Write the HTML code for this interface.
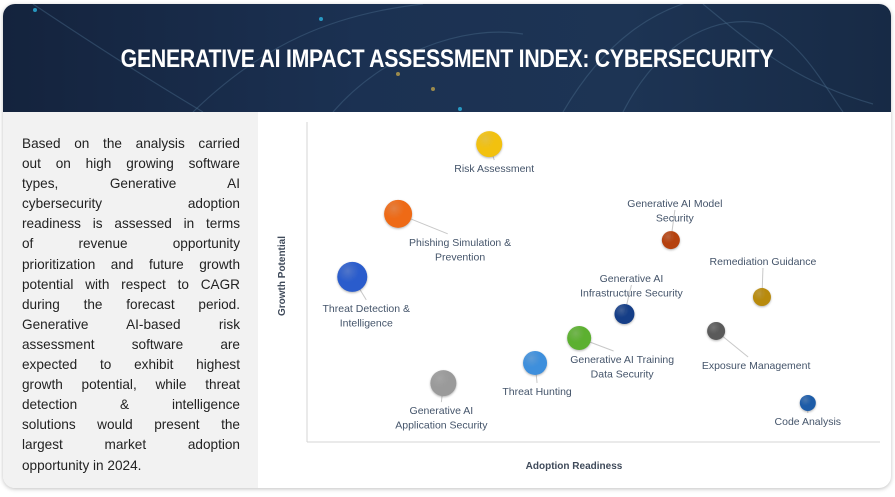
<!DOCTYPE html>
<html><head><meta charset="utf-8"><style>
*{margin:0;padding:0;box-sizing:border-box}
body{width:895px;height:497px;background:#fff;font-family:"Liberation Sans",sans-serif;overflow:hidden;position:relative}
#card{position:absolute;left:3px;top:4px;width:888px;height:484px;border-radius:12px;overflow:hidden;box-shadow:0 1px 4px rgba(0,0,0,.25);background:#fff}
#banner{position:absolute;left:0;top:0;width:888px;height:108px;background:linear-gradient(90deg,#14233d,#1b3152 40%,#1d3454 70%,#172a45)}
#title{position:absolute;left:0;top:41px;width:888px;text-align:center;color:#fff;font-family:"Liberation Sans Narrow","Liberation Sans",sans-serif;font-weight:bold;font-size:25px;letter-spacing:-0.3px;transform:scaleX(0.85)}
#left{position:absolute;left:0;top:108px;width:255px;height:376px;background:#f2f2f2}
#text{position:absolute;left:19px;top:22px;width:218px;font-size:13.6px;color:#222;line-height:20.1px}
#text div{text-align:justify;text-align-last:justify;white-space:nowrap}
#text div.l{text-align-last:left}
</style></head><body>
<div id="card">
<div id="banner">
<svg width="888" height="108" style="position:absolute;left:0;top:0">
<g fill="none" stroke="#4a6a8a" stroke-opacity=".45" stroke-width="1.2">
<path d="M30,0 C120,60 170,90 200,108"/><path d="M190,108 C260,40 330,10 420,0"/>
<path d="M560,108 C600,40 650,0 720,-10"/><path d="M620,108 C660,30 720,10 760,20 C800,40 820,80 840,108"/>
<path d="M330,108 C380,50 460,20 520,30"/><path d="M700,0 C760,50 800,80 870,100"/>
</g>
<g fill="#2ab3e0" opacity=".8"><circle cx="32" cy="6" r="2"/><circle cx="318" cy="15" r="2"/><circle cx="457" cy="105" r="2"/></g>
<g fill="#d2b04a" opacity=".7"><circle cx="395" cy="70" r="2"/><circle cx="430" cy="85" r="2"/></g>
</svg>
<div id="title">GENERATIVE AI IMPACT ASSESSMENT INDEX: CYBERSECURITY</div>
</div>
<div id="left">
<div id="text">
<div>Based on the analysis carried</div>
<div>out on high growing software</div>
<div>types, Generative AI</div>
<div>cybersecurity adoption</div>
<div>readiness is assessed in terms</div>
<div>of revenue opportunity</div>
<div>prioritization and future growth</div>
<div>potential with respect to CAGR</div>
<div>during the forecast period.</div>
<div>Generative AI-based risk</div>
<div>assessment software are</div>
<div>expected to exhibit highest</div>
<div>growth potential, while threat</div>
<div>detection &amp; intelligence</div>
<div>solutions would present the</div>
<div>largest market adoption</div>
<div class="l">opportunity in 2024.</div>
</div>
</div>
</div>
<svg id="chart" width="895" height="497" style="position:absolute;left:0;top:0"></svg>
<script>
const categories=["Risk Assessment","Phishing Simulation & Prevention","Threat Detection & Intelligence","Generative AI Application Security","Threat Hunting","Generative AI Training Data Security","Generative AI Infrastructure Security","Generative AI Model Security","Remediation Guidance","Exposure Management","Code Analysis"];
const adoption=[31.8,15.9,7.9,23.8,39.8,47.5,55.4,63.5,79.4,71.4,87.4];
const growth=[93.1,71.3,51.6,18.4,24.7,32.5,40.0,63.1,45.3,34.7,12.2];
const sizes=[13,14,15,13,12,12,10,9,9,9,8];
const colors=["#f2c10f","#ee6a16","#2a5ccc","#9a9a9a","#3e8fdc","#5cb030","#153e87","#b5410e","#b88a0c","#5a5a5a","#1d5ca8"];
const labelLines=[["Risk Assessment"],["Phishing Simulation &","Prevention"],["Threat Detection &","Intelligence"],["Generative AI","Application Security"],["Threat Hunting"],["Generative AI Training","Data Security"],["Generative AI","Infrastructure Security"],["Generative AI Model","Security"],["Remediation Guidance"],["Exposure Management"],["Code Analysis"]];
const labelOff=[[5,28],[62,32],[14,35],[-2,31],[2,32],[43,25],[7,-32],[4,-33],[1,-32],[40,38],[0,22]];
const X0=307,X1=880,Y0=442,Y1=122;
const xs=v=>X0+(X1-X0)*v/100, ys=v=>Y0-(Y0-Y1)*v/100;
const svg=document.getElementById('chart');const NS="http://www.w3.org/2000/svg";
function mk(t,a){const e=document.createElementNS(NS,t);for(const k in a)e.setAttribute(k,a[k]);svg.appendChild(e);return e;}
let e;
e=mk('line',{x1:X0,y1:Y1,x2:X0,y2:Y0,stroke:'#d4d4d4','stroke-width':1});


e=mk('line',{x1:X0,y1:Y0,x2:X1,y2:Y0,stroke:'#d4d4d4','stroke-width':1});


e=mk('text',{x:574,y:469,'text-anchor':'middle','font-size':10,'font-weight':'bold',fill:'#3f4a5a'});e.textContent='Adoption Readiness';


e=mk('text',{x:0,y:0,'text-anchor':'middle','font-size':10,'font-weight':'bold',fill:'#3f4a5a',transform:'translate(285,276) rotate(-90)'});e.textContent='Growth Potential';


const defs=document.createElementNS(NS,'defs');svg.appendChild(defs);
categories.forEach((c,i)=>{
 const cx=xs(adoption[i]),cy=ys(growth[i]),r=sizes[i];
 const g=document.createElementNS(NS,'radialGradient');g.setAttribute('id','g'+i);g.setAttribute('cx','35%');g.setAttribute('cy','30%');g.setAttribute('r','75%');
 g.innerHTML='<stop offset="0" stop-color="'+colors[i]+'" stop-opacity="0.75"/><stop offset="0.5" stop-color="'+colors[i]+'"/><stop offset="1" stop-color="'+colors[i]+'"/>';defs.appendChild(g);
 const lx=cx+labelOff[i][0],ly=cy+labelOff[i][1];
 const ll=mk('line',{x1:cx,y1:cy,x2:lx+(labelOff[i][0]>30?-labelOff[i][0]*0.2:0),y2:ly+(labelOff[i][1]>0?-12:3),stroke:'#c8c8c8','stroke-width':1});
 
 
 const b=mk('circle',{cx:cx,cy:cy,r:r,fill:'url(#g'+i+')',filter:'drop-shadow(0 1px 1px rgba(0,0,0,.3))'});
 
 
 labelLines[i].forEach((t,j)=>{const tx=mk('text',{x:lx,y:ly+j*14.5,'text-anchor':'middle','font-size':10.5,fill:'#44546a'});tx.textContent=t;
  
  });
});
</script>
</body></html>
